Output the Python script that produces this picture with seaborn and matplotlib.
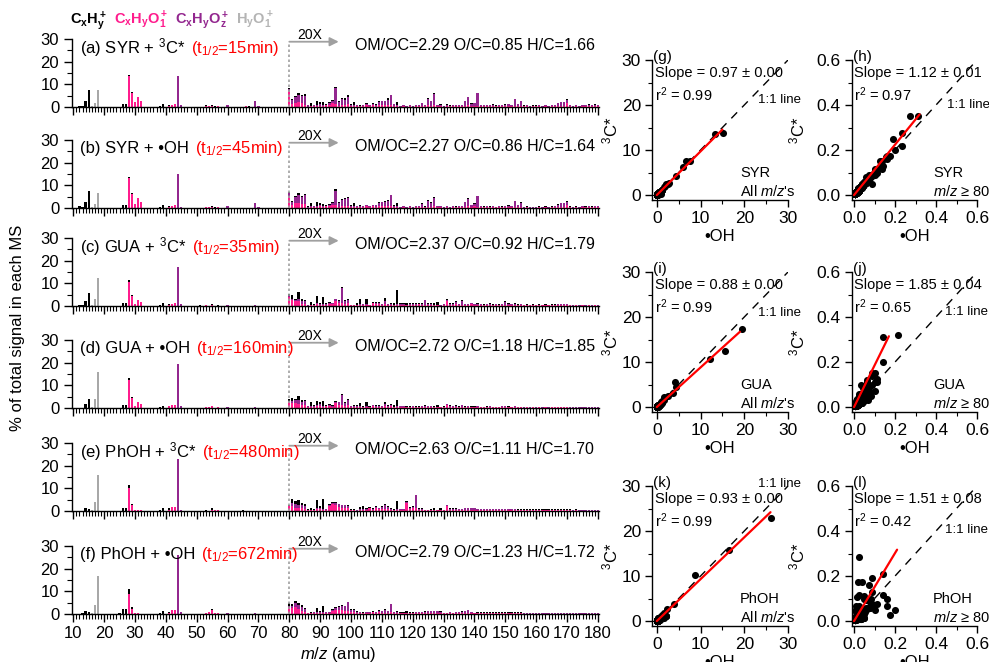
import numpy as np
import pandas as pd
import matplotlib
matplotlib.use("Agg")
import matplotlib.pyplot as plt
import seaborn as sns
from matplotlib.offsetbox import TextArea, HPacker, AnchoredOffsetbox
from matplotlib.ticker import MultipleLocator, FormatStrFormatter

# ------------------------------------------------------------------ data
# Unit-mass spectra, % of total signal.  m/z 10-79: sparse peaks per ion family.
# m/z 80-180: one value per m/z, already multiplied by GAIN (shown 20X).
GAIN = 20
MZ_LO = list(range(10, 80))
MZ_HI = list(range(80, 181))
FAMILIES = ["CxHy", "CxHyO1", "CxHyOz", "HyO1"]

# (a) SYR + 3C*
a_lo_k = {12: .3, 13: .4, 14: 2.6, 15: 7.6, 24: .1, 25: .2, 26: 1.2, 27: 1.2, 28: .5, 29: .3, 37: .2,
          38: .5, 39: 1.2, 40: .2, 41: .5, 50: .2, 51: .2, 52: .1, 53: .2, 55: .2, 56: .1, 57: .1,
          63: .1, 65: .1, 67: .1, 77: .1}
a_lo_p = {28: 13.5, 29: 6.2, 30: 2.0, 31: 4.3, 32: 2.5, 41: .6, 42: 1.0, 43: 1.2, 53: .5, 54: .3,
          55: .6, 56: .2, 57: .3, 58: .1, 66: .3, 67: .2, 71: .2}
a_lo_m = {44: 13.7, 45: .7, 46: .1, 60: .7, 61: .2, 69: 2.5, 70: .3, 73: .2, 74: .2}
a_lo_g = {16: .3, 17: 1.8, 18: 7.6, 19: .1}
a_hi_k = [.4, .4, .4, .8, .5, .6, .1, 1.2, .3, 1.5,
          .8, 1.0, .2, .3, .2, .6, .2, .3, .5, .6,
          .2, 1.0, .2, .5, .1, .1, .1, .1, .1, .2,
          .2, .2, .7, .3, .2, 1.2, .1, .1, .1, .1,
          .1, .1, .1, .2, .1, .3, .2, .3, .1, .2,
          .1, .1, .1, .1, .1, .1, .1, .2, .3, .2,
          .1, .3, .1, .1, .1, .1, .1, .1, .1, .1,
          .1, .1, .1, .2, .1, .2, .1, .1, .1, .1,
          .1, .1, .1, .1, .1, .1, .1, .1, .1, .1,
          .2, .1, .1, .1, .1, .1, .1, .1, .1, .1,
          .1]
a_hi_p = [7.0, 1.5, 1.8, 2.0, 1.6, 1.0, .2, .3, .3, .5,
          .6, .5, .8, .8, 1.8, 1.4, .5, 1.0, 1.0, 1.2,
          .4, .5, .4, .3, .4, 1.0, .4, .7, .5, .9,
          .9, .8, 1.0, .8, .5, .5, .2, .5, .2, .5,
          .2, .5, .3, .5, .3, .7, .5, .7, .3, .6,
          .2, .6, .3, .4, .3, .4, .3, .6, .7, .5,
          .6, .5, .4, .3, .4, .3, .5, .3, .4, .3,
          .5, .5, .4, .4, .5, .4, .3, .3, .2, .3,
          .3, .3, .2, .3, .2, .3, .4, .5, .6, .6,
          1.6, .3, .2, .3, .2, .4, .3, .5, .3, .5,
          .4]
a_hi_m = [1.0, 1.6, 2.6, 3.5, 3.2, 4.0, .5, .3, .4, .5,
          .6, .5, .3, .9, 1.0, 7.0, 1.8, 2.5, 2.3, 3.4,
          .6, .5, .4, .2, .3, .5, .5, .8, .6, 1.4,
          1.6, 1.8, 2.3, 4.4, .8, .6, .2, .4, .2, .4,
          .3, .4, .4, 1.1, .4, 3.0, 2.0, 5.0, .4, .5,
          .3, .5, .3, .5, .4, .5, .4, 2.0, 3.5, 1.0,
          1.1, 5.5, .5, .4, .5, .4, .6, .3, .5, .4,
          .6, .7, .5, 3.0, .9, 2.2, .3, .4, .3, .3,
          .3, .4, .3, .4, .3, .4, .5, 1.2, 1.6, 1.6,
          1.6, .4, .3, .4, .3, .5, .4, .6, .4, .6,
          .5]

# (b) SYR + OH
b_lo_k = {12: .9, 13: .5, 14: 2.8, 15: 7.5, 25: .2, 26: 1.2, 27: 1.2, 28: .5, 29: .3, 37: .2, 38: .5,
          39: 1.2, 40: .2, 41: .5, 50: .2, 51: .2, 53: .2, 55: .5, 56: .2, 57: .1, 63: .1, 65: .1,
          77: .1}
b_lo_p = {28: 13.3, 29: 6.1, 30: 1.8, 31: 4.3, 32: 2.5, 41: .6, 42: 1.0, 43: 1.3, 53: .4, 54: .3,
          55: .5, 56: .2, 57: .3, 66: .2, 67: .2, 71: .2}
b_lo_m = {44: 15.2, 45: .6, 46: .1, 60: .7, 61: .2, 69: 2.2, 70: .3, 73: .2, 74: .2}
b_lo_g = {16: .3, 17: 1.6, 18: 6.6, 19: .1}
b_hi_k = [.5, .5, .5, .9, .5, .5, .1, 1.3, .3, 1.5,
          .9, .9, .2, .3, .2, .5, .2, .3, .5, .6,
          .2, 1.0, .1, .6, .1, .1, .1, .1, .1, .2,
          .2, .2, .6, .3, .2, 1.0, .1, .1, .1, .1,
          .1, .1, .1, .2, .1, .3, .2, .3, .1, .2,
          .1, .1, .1, .1, .1, .1, .1, .2, .3, .2,
          .1, .3, .1, .1, .1, .1, .1, .1, .1, .1,
          .1, .1, .1, .2, .1, .2, .1, .1, .1, .1,
          .1, .1, .1, .1, .1, .1, .1, .1, .1, .1,
          .2, .1, .1, .1, .1, .1, .1, .1, .1, .1,
          .1]
b_hi_p = [5.5, 1.3, 2.0, 2.2, 1.6, 1.8, .2, .4, .3, .6,
          .7, .5, .7, .7, 1.5, 1.5, .6, 1.0, 1.1, 1.1,
          .5, .5, .3, .4, .5, .8, .3, .7, .6, .9,
          .9, .9, .9, .9, .4, .5, .2, .4, .2, .4,
          .2, .5, .3, .6, .3, .6, .5, .7, .3, .4,
          .2, .5, .2, .3, .3, .4, .3, .6, .7, .5,
          .7, .5, .4, .3, .4, .3, .5, .3, .4, .3,
          .5, .5, .4, .4, .5, .4, .2, .3, .2, .2,
          .2, .3, .2, .3, .2, .3, .4, .5, .6, .6,
          1.4, .3, .2, .3, .2, .4, .3, .5, .3, .5,
          .4]
b_hi_m = [1.0, 1.2, 2.8, 3.5, 3.2, 4.0, .4, .3, .4, .5,
          .7, .4, .3, .8, .9, 6.2, 1.8, 2.5, 2.7, 3.1,
          .6, .5, .4, .3, .4, .4, .4, .7, .8, 1.5,
          1.7, 1.8, 2.0, 4.7, .7, .5, .3, .3, .3, .3,
          .3, .4, .4, 1.2, .3, 2.5, 1.9, 3.8, .4, .4,
          .3, .4, .3, .4, .3, .5, .4, 2.0, 3.2, .8,
          1.2, 4.7, .4, .3, .4, .3, .5, .2, .4, .3,
          .5, .6, .4, 2.7, .8, 2.0, .3, .3, .2, .3,
          .3, .3, .2, .3, .2, .3, .4, 1.0, 1.4, 1.4,
          1.4, .3, .2, .3, .2, .4, .3, .5, .3, .5,
          .4]

# (c) GUA + 3C*
c_lo_k = {12: .3, 13: .3, 14: 2.3, 15: 5.6, 25: .2, 26: 1.2, 27: 1.3, 28: .7, 29: .3, 37: .2, 38: .5,
          39: 1.2, 40: .2, 41: .5, 50: .2, 51: .3, 53: .2, 55: .4, 57: .2, 63: .1, 65: .2, 77: .1}
c_lo_p = {28: 10.6, 29: 4.4, 30: 1.0, 31: 2.5, 32: 1.6, 41: .5, 42: .8, 43: 1.2, 53: .3, 54: .2,
          55: .5, 57: .2, 58: .1, 66: .2, 71: .1}
c_lo_m = {44: 17.3, 45: .7, 46: .2, 60: .3, 61: .1, 69: .5, 70: .1, 73: .1}
c_lo_g = {16: .5, 17: 3.1, 18: 12.5, 19: .1}
c_hi_k = [.8, 1.5, .4, 2.8, 1.3, .6, .1, 1.2, .3, 3.0,
          .6, 3.0, .5, .4, .3, .3, .4, .6, .5, .4,
          .1, .1, .9, 2.2, .3, 2.0, .1, .3, .3, .4,
          .2, 1.2, .2, .3, .9, 6.2, .6, .6, 1.0, .5,
          .3, .3, .4, .3, .3, .4, .4, 1.0, 1.2, .1,
          .2, .2, .3, .3, .3, .2, .3, .2, .2, .3,
          .2, .2, .2, .2, .2, .3, .2, .2, .2, .2,
          .3, .2, .2, .3, .2, .2, .1, .2, .1, .2,
          .1, .2, .1, .2, .1, .2, .2, .2, .2, .2,
          .2, .1, .1, .1, .1, .1, .1, .1, .1, .1,
          .1]
c_hi_p = [4.0, 2.5, 2.2, 2.0, 1.0, 1.0, .2, .3, .3, .7,
          .5, .6, .6, .8, .8, 2.2, 1.2, 1.5, 1.0, 1.2,
          .3, .3, .3, .5, .4, .6, .3, 1.2, 1.0, .9,
          .5, .8, .5, .6, .3, .5, .5, .5, .3, .6,
          .5, .5, .7, .5, .5, .6, .6, .3, .3, .2,
          .5, 2.4, .5, .5, 1.0, .5, .5, .5, .5, .7,
          .5, .5, .5, .4, .4, .5, .4, .4, .3, .5,
          .5, .5, .5, .6, .4, .5, .3, .3, .3, .3,
          .3, .4, .3, .3, .3, .4, .4, .4, .5, .4,
          .5, .3, .2, .3, .2, .3, .2, .3, .2, .3,
          .2]
c_hi_m = [.6, .8, .6, 1.2, 1.0, 1.0, .2, .3, .2, .5,
          .4, .4, .4, .5, .4, .7, 1.0, 6.4, 1.1, 1.4,
          .2, .2, .3, .3, .3, .4, .2, .3, .5, .5,
          .3, 1.5, .3, .4, .3, .5, .4, .4, .2, .4,
          .4, .4, .4, .4, 2.0, .5, .5, .2, .3, .2,
          .3, .4, .4, .4, .9, .3, 1.7, .3, .3, .5,
          .3, .5, .3, .2, .3, .4, .2, .3, .2, .3,
          1.2, .5, .3, .4, .2, .3, .2, .2, .2, .2,
          .2, .2, .2, .2, .2, .2, .2, .3, .3, .3,
          .3, .2, .2, .2, .2, .2, .2, .2, .2, .2,
          .2]

# (d) GUA + OH
d_lo_k = {12: .2, 13: .2, 14: 1.6, 15: 4.1, 25: .2, 26: 1.2, 27: 1.2, 28: 1.0, 29: .4, 37: .2, 38: .4,
          39: 1.0, 40: .2, 41: .4, 50: .2, 51: .2, 53: .2, 55: .3, 57: .2, 65: .1, 77: .1}
d_lo_p = {28: 12.2, 29: 4.3, 30: 1.0, 31: 2.6, 32: 1.6, 41: .7, 42: 1.2, 43: 1.2, 53: .3, 54: .5,
          55: .7, 57: .3, 58: .2, 59: .2, 66: .1, 71: .1}
d_lo_m = {44: 19.5, 45: .7, 46: .2, 60: .3, 61: .1, 69: .3, 73: .1}
d_lo_g = {16: .3, 17: 3.8, 18: 15.7, 19: .1}
d_hi_k = [.6, 1.2, .5, 1.8, 1.0, .6, .2, 1.5, .3, 1.8,
          .8, 2.0, .4, .4, .2, .3, .3, .5, .4, .4,
          .2, .3, .8, 1.3, .2, 1.4, .2, .2, .2, .2,
          .2, .7, .2, .3, .6, 2.8, .3, .3, .5, .2,
          .2, .2, .2, .2, .2, .2, .2, .5, .8, .1,
          .2, .2, .2, .2, .2, .2, .2, .2, .2, .2,
          .2, .2, .1, .1, .1, .2, .1, .1, .1, .1,
          .2, .1, .1, .2, .1, .1, .1, .1, .1, .1,
          .1, .1, .1, .1, .1, .1, .1, .1, .1, .1,
          .1, .1, .1, .1, .1, .1, .1, .1, .1, .1,
          .1]
d_hi_p = [2.8, 2.2, 2.2, 1.8, 1.3, 1.2, .4, .5, .5, .7,
          1.0, .6, .7, .7, .6, 2.0, 1.3, 1.5, 1.0, 1.4,
          .4, .5, .4, .4, .3, .6, .3, 1.0, .6, .6,
          .5, .7, .6, .7, .3, .4, .4, .4, .3, .3,
          .5, .3, .4, .4, .4, .4, .4, .3, .3, .3,
          .3, 1.3, .5, .4, .6, .3, .4, .3, .4, .3,
          .3, .4, .3, .3, .3, .4, .3, .3, .3, .4,
          .4, .3, .3, .4, .3, .3, .2, .3, .2, .3,
          .2, .3, .2, .3, .2, .3, .3, .3, .3, .3,
          .3, .2, .2, .2, .2, .2, .2, .2, .2, .2,
          .2]
d_hi_m = [.4, 1.0, 1.4, 1.6, 1.4, 1.7, .4, .5, .4, .5,
          .8, .4, .4, .5, .4, .7, 1.2, 4.3, 1.1, 2.0,
          .4, .4, .3, .3, .3, .5, .3, .3, .4, .4,
          .3, 1.1, .4, .8, .3, .4, .3, .3, .2, .3,
          .3, .3, .2, .4, .7, .4, .4, .2, .3, .2,
          .3, .3, .5, .4, .5, .3, .9, .3, .4, .3,
          .3, .3, .2, .2, .3, .3, .2, .2, .2, .3,
          .5, .3, .2, .3, .2, .2, .2, .2, .2, .2,
          .2, .2, .2, .2, .2, .2, .2, .2, .2, .2,
          .2, .2, .2, .2, .2, .2, .2, .2, .2, .2,
          .2]

# (e) PhOH + 3C*
e_lo_k = {12: .2, 13: .2, 14: 1.3, 15: 1.0, 25: .2, 26: 1.2, 27: 1.2, 28: 1.2, 29: .4, 37: .2, 38: .5,
          39: 1.2, 40: .2, 41: .6, 50: .2, 51: .2, 53: .2, 55: .6, 56: .2, 63: .1, 65: .2}
e_lo_p = {28: 10.3, 29: 2.6, 30: .6, 31: .6, 32: .3, 41: .6, 42: 1.6, 43: 1.8, 53: .2, 54: .2,
          55: .6, 56: .4, 57: .4, 65: .2, 66: .1}
e_lo_m = {44: 23.0, 45: .6, 46: .1, 60: .2, 69: .2}
e_lo_g = {16: .3, 17: 3.8, 18: 15.7, 19: .1}
e_hi_k = [.6, 2.0, 1.0, 2.2, 1.0, .8, .4, 1.0, .3, 3.8,
          1.0, 4.2, .3, .4, .3, .3, .3, .3, .3, .3,
          .2, .2, .1, 1.0, 1.3, .4, .3, .3, .3, .3,
          .3, .3, .3, .5, .4, 3.5, .3, .3, .3, .3,
          .3, .3, .3, .3, .1, .1, .2, 1.0, .1, 1.0,
          .1, .2, .3, .3, .3, .2, .2, .2, .2, .2,
          .2, .2, .2, .2, .2, .2, .2, .2, .2, .2,
          .2, .2, .2, .2, .2, .2, .1, .2, .1, .2,
          .1, .1, .1, .1, .1, .1, .1, .1, .1, .1,
          .1, .1, .1, .1, .1, .1, .1, .1, .1, .1,
          .1]
e_hi_p = [2.0, 2.3, 1.3, 1.5, 1.2, 1.0, .3, .3, .3, .7,
          .7, .6, .4, 2.3, 3.2, 2.6, 1.7, 1.5, 1.2, 1.2,
          .3, .3, .2, .5, .4, .5, 1.2, .5, 1.3, .7,
          .9, .8, .8, .5, .3, .4, .4, .4, 3.5, 1.0,
          1.2, 1.2, .5, .5, .3, .3, .3, .3, .3, .3,
          .3, 2.1, .5, .5, .5, .4, .4, .5, .5, .5,
          .5, .4, .4, .4, .4, .4, .4, .4, .5, .5,
          .4, .4, .4, .4, .3, .3, .3, .3, .3, .3,
          .3, .3, .3, .3, .3, .3, .3, .3, .3, .3,
          .3, .3, .2, .3, .2, .2, .2, .2, .2, .2,
          .2]
e_hi_m = [.2, 1.2, 2.0, 1.3, 1.5, 1.1, .3, .2, .2, .5,
          .5, .5, .3, .5, .5, .9, 1.2, 1.0, 1.3, 1.0,
          .3, .3, .2, .3, .3, .4, .3, .4, .4, .5,
          .8, 1.9, .9, .5, .3, .3, .3, .3, .4, .5,
          .5, 5.7, .5, .4, .2, .2, .3, .2, .2, .2,
          .2, .4, .4, .4, .4, .4, .4, .8, .8, .8,
          .8, .5, .4, .4, .4, .4, .4, .4, .4, .4,
          .4, .4, .3, .3, .3, .3, .3, .3, .3, .3,
          .3, .3, .3, .3, .3, .3, .3, .3, .3, .3,
          .3, .3, .2, .3, .2, .2, .2, .2, .2, .2,
          .2]

# (f) PhOH + OH
f_lo_k = {12: .2, 13: .3, 14: 1.3, 15: .8, 25: .3, 26: 2.0, 27: 2.0, 28: 2.2, 29: .5, 37: .2, 38: .4,
          39: 1.4, 40: .2, 41: .7, 50: .2, 51: .2, 53: .2, 55: .4, 57: .1, 65: .2}
f_lo_p = {28: 8.7, 29: 2.4, 30: .4, 31: .3, 41: .3, 42: 1.6, 43: 1.6, 53: .3, 54: .7, 55: 1.6,
          56: .6, 57: .3, 58: .2, 60: .2, 66: .1, 69: .2}
f_lo_m = {44: 26.0, 45: .8, 46: .1, 60: .2, 69: .2}
f_lo_g = {16: .3, 17: 4.0, 18: 16.6, 19: .1}
f_hi_k = [1.0, 1.0, 1.0, 1.0, .6, .4, .1, .5, .3, 1.8,
          .5, 2.8, .3, .2, .2, .3, .3, .3, .3, .3,
          .2, .2, .2, .3, .2, .2, .1, .2, .2, .2,
          .2, .2, .2, .3, .2, .8, .1, .1, .9, .1,
          .1, .1, .1, .1, .1, .2, .2, .2, .2, .2,
          .1, .1, .1, .1, .1, .1, .1, .1, .1, .1,
          .1, .1, .1, .1, .1, .1, .1, .1, .1, .1,
          .1, .1, .1, .1, .1, .1, .1, .1, .1, .1,
          .1, .1, .1, .1, .1, .1, .1, .1, .1, .1,
          .1, .1, .1, .1, .1, .1, .1, .1, .1, .1,
          .1]
f_hi_p = [3.2, 2.8, 3.2, 2.2, 1.5, 1.0, .3, .3, .4, .5,
          .4, .5, .4, .5, 1.5, 1.8, 1.6, 1.7, 1.5, 1.2,
          .8, .8, .5, .4, .3, .5, .4, .7, .5, .8,
          .6, .6, .6, .7, .4, .4, .3, .3, .4, .3,
          .3, .4, .5, .5, .5, .6, .6, .6, .6, .5,
          .3, .3, .4, .3, .4, .4, .5, .6, .6, .4,
          .3, .3, .3, .3, .3, .3, .3, .3, .3, .3,
          .3, .3, .3, .3, .3, .3, .2, .2, .2, .2,
          .2, .2, .2, .2, .2, .2, .2, .2, .2, .2,
          .2, .2, .2, .2, .2, .2, .2, .2, .2, .2,
          .2]
f_hi_m = [.5, .8, 1.7, 1.8, 1.8, 1.3, .2, .2, .3, .3,
          .3, .3, .3, .3, .3, .9, 1.6, 2.0, 1.9, 4.0,
          1.0, 1.0, .5, .3, .3, .3, .3, .4, .3, .6,
          .6, 1.2, .7, 3.5, .4, .3, .3, .3, .2, .3,
          .3, .5, .4, .5, .6, .7, .7, .7, .7, .6,
          .2, .2, .3, .2, .3, .3, .6, .8, 1.1, .3,
          .2, .3, .3, .3, .3, .3, .3, .3, .3, .3,
          .3, .3, .3, .3, .3, .3, .2, .2, .2, .2,
          .2, .2, .2, .2, .2, .2, .2, .2, .2, .2,
          .2, .2, .2, .2, .2, .2, .2, .2, .2, .2,
          .2]

PANEL_KEYS = ["a", "b", "c", "d", "e", "f"]
PANEL_NAMES = ["(a) SYR + $\\mathregular{^3}$C*", "(b) SYR + \u2022OH",
               "(c) GUA + $\\mathregular{^3}$C*", "(d) GUA + \u2022OH",
               "(e) PhOH + $\\mathregular{^3}$C*", "(f) PhOH + \u2022OH"]
HALF_LIVES = [15, 45, 35, 160, 480, 672]          # min
OM_OC = [2.29, 2.27, 2.37, 2.72, 2.63, 2.79]
O_C = [0.85, 0.86, 0.92, 1.18, 1.11, 1.23]
H_C = [1.66, 1.64, 1.79, 1.85, 1.70, 1.72]

# Scatter comparisons: 3C* spectrum (y) against the OH spectrum (x)
SC_TAGS = ["(g)", "(h)", "(i)", "(j)", "(k)", "(l)"]
SC_PAIRS = [("a", "b"), ("a", "b"), ("c", "d"), ("c", "d"), ("e", "f"), ("e", "f")]
SC_RANGE = ["all", "hi", "all", "hi", "all", "hi"]
SC_NAMES = ["SYR", "SYR", "GUA", "GUA", "PhOH", "PhOH"]
SC_SLOPE = [0.97, 1.12, 0.88, 1.85, 0.93, 1.51]
SC_SLOPE_ERR = [0.00, 0.01, 0.00, 0.04, 0.00, 0.08]
SC_R2 = [0.99, 0.97, 0.99, 0.65, 0.99, 0.42]
SC_FIT_XMAX = [15, 0.32, 19, 0.17, 26, 0.21]

FAMILY_COLORS = {"CxHy": "#000000", "CxHyO1": "#FF1C8D", "CxHyOz": "#93278F", "HyO1": "#A8A8A8"}


def build_spectrum(lo_parts, hi_parts):
    rows = []
    for fam, lo, hi in zip(FAMILIES, lo_parts, hi_parts):
        for mz in MZ_LO:
            v = lo.get(mz, 0.0)
            rows.append((mz, fam, v, v))
        if len(hi) != len(MZ_HI):
            raise ValueError(f"{fam}: expected {len(MZ_HI)} values, got {len(hi)}")
        for mz, v in zip(MZ_HI, hi):
            rows.append((mz, fam, v, v / GAIN))
    return pd.DataFrame(rows, columns=["mz", "family", "shown", "signal"])


ZERO_HI = [0.0] * len(MZ_HI)
spectra = {
    "a": build_spectrum([a_lo_k, a_lo_p, a_lo_m, a_lo_g], [a_hi_k, a_hi_p, a_hi_m, ZERO_HI]),
    "b": build_spectrum([b_lo_k, b_lo_p, b_lo_m, b_lo_g], [b_hi_k, b_hi_p, b_hi_m, ZERO_HI]),
    "c": build_spectrum([c_lo_k, c_lo_p, c_lo_m, c_lo_g], [c_hi_k, c_hi_p, c_hi_m, ZERO_HI]),
    "d": build_spectrum([d_lo_k, d_lo_p, d_lo_m, d_lo_g], [d_hi_k, d_hi_p, d_hi_m, ZERO_HI]),
    "e": build_spectrum([e_lo_k, e_lo_p, e_lo_m, e_lo_g], [e_hi_k, e_hi_p, e_hi_m, ZERO_HI]),
    "f": build_spectrum([f_lo_k, f_lo_p, f_lo_m, f_lo_g], [f_hi_k, f_hi_p, f_hi_m, ZERO_HI]),
}

# ------------------------------------------------------------------ style
sns.set_theme(style="ticks")
plt.rcParams["font.family"] = ["Liberation Sans", "DejaVu Sans"]
plt.rcParams.update({
    "mathtext.fontset": "custom",
    "mathtext.rm": "Liberation Sans",
    "mathtext.it": "Liberation Sans:italic",
    "mathtext.bf": "Liberation Sans:bold",
    "axes.linewidth": 1.0,
    "axes.edgecolor": "black",
    "xtick.color": "black",
    "ytick.color": "black",
    "text.color": "black",
    "axes.labelcolor": "black",
})

W, H = 989, 662
fig = plt.figure(figsize=(W / 100, H / 100), dpi=100)
fig.patch.set_facecolor("white")


def px_axes(left, top, right, bottom):
    return fig.add_axes([left / W, 1 - bottom / H, (right - left) / W, (bottom - top) / H])


def packed_text(parts, size, anchor, transform, weight="normal", sep=4):
    boxes = [TextArea(t, textprops=dict(color=c, fontsize=size, fontweight=weight)) for t, c in parts]
    pack = HPacker(children=boxes, align="baseline", pad=0, sep=sep)
    box = AnchoredOffsetbox(loc="center left", child=pack, pad=0, borderpad=0, frameon=False,
                            bbox_to_anchor=anchor, bbox_transform=transform)
    return box


def stacked_bars(ax, spec):
    """Draw one stacked spectrum: CxHyO1 at the bottom, CxHyOz above it, CxHy on top."""
    wide = spec.pivot(index="mz", columns="family", values="shown").reset_index()
    layers = [
        ("CxHy", wide["CxHyO1"] + wide["CxHyOz"] + wide["CxHy"]),
        ("CxHyOz", wide["CxHyO1"] + wide["CxHyOz"]),
        ("CxHyO1", wide["CxHyO1"]),
        ("HyO1", wide["HyO1"]),
    ]
    for fam, heights in layers:
        sns.histplot(x=wide["mz"], weights=heights, discrete=True, shrink=0.72,
                     element="bars", fill=True, alpha=1, color=FAMILY_COLORS[fam],
                     edgecolor="none", linewidth=0, ax=ax)


# ------------------------------------------------------------------ spectra
BASELINE = {"a": 107, "b": 208, "c": 306, "d": 408, "e": 511, "f": 614}
SPEC_LEFT, SPEC_RIGHT, SPEC_H = 71.7, 599.5, 68

for i, key in enumerate(PANEL_KEYS):
    yb = BASELINE[key]
    ax = px_axes(SPEC_LEFT, yb - SPEC_H, SPEC_RIGHT, yb)
    stacked_bars(ax, spectra[key])
    ax.set_xlim(9.5, 180.5)
    ax.set_ylim(0, 30)
    ax.set_xlabel("")
    ax.set_ylabel("")
    sns.despine(ax=ax)
    ax.xaxis.set_major_locator(MultipleLocator(10))
    ax.xaxis.set_minor_locator(MultipleLocator(1))
    ax.yaxis.set_major_locator(MultipleLocator(10))
    ax.yaxis.set_minor_locator(MultipleLocator(5))
    ax.tick_params(which="major", direction="out", length=6, width=1, labelsize=12, pad=3)
    ax.tick_params(which="minor", direction="out", length=3.5, width=0.8)
    if key != "f":
        ax.tick_params(axis="x", labelbottom=False)

    # magnification marker
    ax.plot([MZ_HI[0], MZ_HI[0]], [0, 28.8], color="#A0A0A0", lw=1.2, ls=(0, (1.5, 1.5)),
            clip_on=False, zorder=5)
    ax.annotate("", xy=(96, 28.8), xytext=(MZ_HI[0], 28.8),
                arrowprops=dict(arrowstyle="-|>", color="#A0A0A0", lw=1.3, mutation_scale=13,
                                shrinkA=0, shrinkB=0),
                annotation_clip=False)
    ax.text(86.5, 31.8, f"{GAIN}X", fontsize=10, ha="center", va="center", clip_on=False)

    ax.text(101.3, 27.3, f"OM/OC={OM_OC[i]:.2f} O/C={O_C[i]:.2f} H/C={H_C[i]:.2f}",
            fontsize=11.5, ha="left", va="center")

    ax.add_artist(packed_text([(PANEL_NAMES[i], "black"),
                               (f"(t$\\mathregular{{_{{1/2}}}}$={HALF_LIVES[i]}min)", "#FF0000")],
                              12, (0.016, 0.88), ax.transAxes))

# family header
fig.add_artist(packed_text([("$\\mathbf{C_xH_y^+}$", FAMILY_COLORS["CxHy"]),
                            ("$\\mathbf{C_xH_yO_1^+}$", FAMILY_COLORS["CxHyO1"]),
                            ("$\\mathbf{C_xH_yO_z^+}$", FAMILY_COLORS["CxHyOz"]),
                            ("$\\mathbf{H_yO_1^+}$", "#B4B4B4")],
                           10.5, (70 / W, 1 - 21 / H), fig.transFigure, sep=5))

fig.text(18 / W, 1 - 328 / H, "% of total signal in each MS", rotation=90,
         ha="center", va="center", fontsize=12)
fig.text(338 / W, 1 - 654 / H, "$\\mathit{m/z}$ (amu)", ha="center", va="center", fontsize=12)

# ------------------------------------------------------------------ scatter panels
SC_BOX = [(652, 60, 788, 200), (852, 60, 977, 200),
          (652, 272, 788, 412), (852, 272, 977, 412),
          (652, 486, 788, 626), (852, 486, 977, 626)]
ONE_TO_ONE_POS = [(0.78, 0.714), (0.76, 0.68), (0.78, 0.707), (0.745, 0.714), (0.78, 1.014), (0.745, 0.686)]


def paired_points(c3_key, oh_key, rng):
    y = spectra[c3_key].set_index(["mz", "family"])["signal"]
    x = spectra[oh_key].set_index(["mz", "family"])["signal"]
    pts = pd.DataFrame({"oh": x, "c3": y}).reset_index()
    if rng == "hi":
        pts = pts[(pts["mz"] >= MZ_HI[0]) & (pts["family"] != "HyO1")]
    return pts[(pts["oh"] > 0) | (pts["c3"] > 0)]


for j in range(6):
    left, top, right, bottom = SC_BOX[j]
    ax = px_axes(left, top, right, bottom)
    c3_key, oh_key = SC_PAIRS[j]
    pts = paired_points(c3_key, oh_key, SC_RANGE[j])
    full = SC_RANGE[j] == "all"
    lim = 30 if full else 0.6

    sns.scatterplot(data=pts, x="oh", y="c3", color="black", s=26, linewidth=0,
                    legend=False, ax=ax, zorder=3)
    ax.plot([0, lim], [0, lim], color="black", lw=1.0, dashes=(6, 5), zorder=2)
    xe = SC_FIT_XMAX[j]
    ax.plot([0, xe], [0, SC_SLOPE[j] * xe], color="#FF0000", lw=1.6, zorder=4)

    if full:
        ax.set_xlim(-1.1, 30)
        ax.set_ylim(-1.1, 30)
        for axis in (ax.xaxis, ax.yaxis):
            axis.set_major_locator(MultipleLocator(10))
            axis.set_minor_locator(MultipleLocator(5))
    else:
        ax.set_xlim(-0.01, 0.6)
        ax.set_ylim(-0.022, 0.6)
        for axis in (ax.xaxis, ax.yaxis):
            axis.set_major_locator(MultipleLocator(0.2))
            axis.set_minor_locator(MultipleLocator(0.1))
            axis.set_major_formatter(FormatStrFormatter("%.1f"))
    sns.despine(ax=ax)
    ax.tick_params(which="major", direction="out", length=5, width=1, labelsize=12.5, pad=3)
    ax.tick_params(which="minor", direction="out", length=3, width=0.8)

    ax.set_xlabel("\u2022OH", fontsize=12)
    ax.set_ylabel("$\\mathregular{^3}$C*", fontsize=12)
    ax.xaxis.set_label_coords(0.5, -0.21)
    ax.yaxis.set_label_coords(-0.235 if full else -0.36, 0.5)

    ax.text(0.005, 1.02, SC_TAGS[j], transform=ax.transAxes, fontsize=11, ha="left", va="center")
    ax.text(0.02, 0.905, f"Slope = {SC_SLOPE[j]:.2f} \u00b1 {SC_SLOPE_ERR[j]:.2f}",
            transform=ax.transAxes, fontsize=10.5, ha="left", va="center")
    ax.text(0.02, 0.755, f"r$\\mathregular{{^2}}$ = {SC_R2[j]:.2f}",
            transform=ax.transAxes, fontsize=10.5, ha="left", va="center")
    ox, oy = ONE_TO_ONE_POS[j]
    ax.text(ox, oy, "1:1 line", transform=ax.transAxes, fontsize=9.5, ha="left", va="center")
    ax.text(0.647, 0.193, SC_NAMES[j], transform=ax.transAxes, fontsize=10.5,
            ha="left", va="center")
    sub = "All $\\mathit{m/z}$'s" if full else "$\\mathit{m/z}$ \u2265 80"
    ax.text(0.647, 0.064, sub, transform=ax.transAxes, fontsize=10.5, ha="left", va="center")

fig.savefig("out.png", dpi=100, facecolor="white")
